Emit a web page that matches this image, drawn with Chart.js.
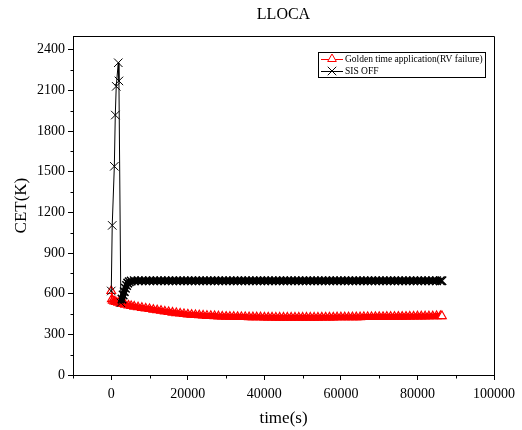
<!DOCTYPE html>
<html>
<head>
<meta charset="utf-8">
<script src="https://cdn.jsdelivr.net/npm/chart.js@4/dist/chart.umd.min.js"></script>
<style>
  html, body { margin: 0; padding: 0; background: #fff; }
  #wrap { width: 522px; height: 430px; }
</style>
</head>
<body>
<div id="wrap"><canvas id="cetChart" width="522" height="430"></canvas></div>
<script>
// ---- data ----
const goldenTime = [
  0, 150, 400, 800, 1200, 1800, 2400, 3000, 3600, 4500, 5200,
  6000, 7000, 8000, 9000, 10000, 11000, 12000, 13000, 14000, 15000,
  16000, 17000, 18000, 19000, 20000, 21000, 22000, 23000, 24000, 25000,
  26000, 27000, 28000, 29000, 30000, 31000, 32000, 33000, 34000, 35000,
  36000, 37000, 38000, 39000, 40000, 41000, 42000, 43000, 44000, 45000,
  46000, 47000, 48000, 49000, 50000, 51000, 52000, 53000, 54000, 55000,
  56000, 57000, 58000, 59000, 60000, 61000, 62000, 63000, 64000, 65000,
  66000, 67000, 68000, 69000, 70000, 71000, 72000, 73000, 74000, 75000,
  76000, 77000, 78000, 79000, 80000, 81000, 82000, 83000, 84000, 85000,
  86000, 86400
];
const goldenCET = [
  620, 560, 548, 543, 539, 534, 529, 524, 519, 513, 509,
  505, 500, 496, 491, 487, 482, 478, 474, 469, 465,
  461, 457, 454, 450, 447, 445, 443, 441, 439, 437,
  436, 435, 433, 432, 431, 430, 430, 429, 428, 428,
  427, 427, 426, 426, 425, 425, 425, 424, 424, 424,
  424, 424, 424, 424, 424, 424, 424, 424, 424, 425,
  425, 425, 425, 426, 426, 426, 426, 427, 427, 427,
  428, 428, 428, 429, 429, 429, 430, 430, 430, 431,
  431, 431, 432, 432, 433, 433, 433, 434, 434, 435,
  435, 435
];

const sisOffTime = [
  0, 250, 800, 1050, 1300, 1830, 2000, 2500, 2800, 3100, 3400, 3700, 4000, 4300, 4700, 5200,
  6000, 7000, 8000, 9000, 10000, 11000, 12000, 13000, 14000, 15000,
  16000, 17000, 18000, 19000, 20000, 21000, 22000, 23000, 24000, 25000,
  26000, 27000, 28000, 29000, 30000, 31000, 32000, 33000, 34000, 35000,
  36000, 37000, 38000, 39000, 40000, 41000, 42000, 43000, 44000, 45000,
  46000, 47000, 48000, 49000, 50000, 51000, 52000, 53000, 54000, 55000,
  56000, 57000, 58000, 59000, 60000, 61000, 62000, 63000, 64000, 65000,
  66000, 67000, 68000, 69000, 70000, 71000, 72000, 73000, 74000, 75000,
  76000, 77000, 78000, 79000, 80000, 81000, 82000, 83000, 84000, 85000,
  86000, 86400
];
const sisOffCET = [
  620, 1104, 1540, 1918, 2130, 2304, 2170, 533, 560, 590, 615, 640, 660, 678, 688, 693,
  695, 695, 695, 695, 695, 695, 695, 695, 695, 695,
  695, 695, 695, 695, 695, 695, 695, 695, 695, 695,
  695, 695, 695, 695, 695, 695, 695, 695, 695, 695,
  695, 695, 695, 695, 695, 695, 695, 695, 695, 695,
  695, 695, 695, 695, 695, 695, 695, 695, 695, 695,
  695, 695, 695, 695, 695, 695, 695, 695, 695, 695,
  695, 695, 695, 695, 695, 695, 695, 695, 695, 695,
  695, 695, 695, 695, 695, 695, 695, 695, 695, 695,
  695, 695
];

const xMajorTicks = [0, 20000, 40000, 60000, 80000, 100000];
const xMinorTicks = [-10000, 10000, 30000, 50000, 70000, 90000];
const yMajorTicks = [0, 300, 600, 900, 1200, 1500, 1800, 2100, 2400];
const yMinorTicks = [150, 450, 750, 1050, 1350, 1650, 1950, 2250];

const SERIF = "'Liberation Serif', 'DejaVu Serif', serif";
const SIS_SPIKE_END = 7;   // index where the SIS OFF spike is over and markers pack into a band
const GOLDEN_BAND_START = 1;

// points {x,y} for the linear x axis
const toPoints = (xs, ys) => xs.map((t, i) => ({ x: t, y: ys[i] }));

// frame (top/right), minor ticks and the boxed legend
const framePlugin = {
  id: 'frame',
  afterDraw(chart) {
    const { ctx, chartArea: a, scales: { x, y } } = chart;
    const L = Math.round(a.left) + 0.5, R = Math.round(a.right) + 0.5;
    const T = Math.round(a.top) + 0.5, B = Math.round(a.bottom) + 0.5;
    ctx.save();
    ctx.strokeStyle = '#000';
    ctx.lineWidth = 1;
    ctx.beginPath();
    ctx.moveTo(L, B); ctx.lineTo(L, T); ctx.lineTo(R, T); ctx.lineTo(R, B); ctx.lineTo(L, B);
    xMinorTicks.forEach(v => {
      const px = Math.round(x.getPixelForValue(v)) + 0.5;
      ctx.moveTo(px, B); ctx.lineTo(px, B + 3);
    });
    yMinorTicks.forEach(v => {
      const py = Math.round(y.getPixelForValue(v)) + 0.5;
      ctx.moveTo(L, py); ctx.lineTo(L - 3, py);
    });
    ctx.stroke();

    // legend box
    const bx = 318.5, by = 52.5, bw = 167, bh = 25;
    ctx.fillStyle = '#fff';
    ctx.fillRect(bx, by, bw, bh);
    ctx.strokeRect(bx, by, bw, bh);
    [0, 1].forEach((di, row) => {
      const ds = chart.data.datasets[di];
      const cy = 59 + row * 12;
      ctx.strokeStyle = ds.borderColor;
      ctx.lineWidth = 1;
      ctx.beginPath();
      ctx.moveTo(321, cy + 0.5); ctx.lineTo(343, cy + 0.5);
      ctx.stroke();
      ctx.fillStyle = '#fff';
      ctx.strokeStyle = ds.pointBorderColor;
      Chart.helpers.drawPoint(ctx, {
        pointStyle: ds.pointStyle, radius: ds.pointRadius, rotation: 0, borderWidth: 1
      }, 332, cy);
      ctx.fillStyle = '#000';
      ctx.font = '9.5px ' + SERIF;
      ctx.textBaseline = 'middle';
      ctx.textAlign = 'left';
      ctx.fillText(ds.label, 345, cy + 0.5);
    });
    ctx.restore();
  }
};

const lastGolden = goldenTime.length - 1;

new Chart(document.getElementById('cetChart'), {
  type: 'line',
  data: {
    datasets: [
      {
        label: 'Golden time application(RV failure)',
        data: toPoints(goldenTime, goldenCET),
        borderColor: '#ff0000',
        borderWidth: 1,
        borderJoinStyle: 'round',
        segment: { borderWidth: c => c.p0DataIndex >= GOLDEN_BAND_START ? 6 : 1 },
        pointStyle: 'triangle',
        pointRadius: 5,
        pointBorderWidth: 1.2,
        pointBorderColor: '#ff0000',
        pointBackgroundColor: c => c.dataIndex === lastGolden ? '#ffffff' : 'rgba(255,255,255,0)',
        tension: 0,
        order: 1
      },
      {
        label: 'SIS OFF',
        data: toPoints(sisOffTime, sisOffCET),
        borderColor: '#000000',
        borderWidth: 1,
        borderJoinStyle: 'round',
        segment: { borderWidth: c => c.p0DataIndex >= SIS_SPIKE_END ? 6 : 1 },
        pointStyle: 'crossRot',
        pointRadius: 6,
        pointBorderWidth: c => c.dataIndex <= SIS_SPIKE_END ? 1 : 1.5,
        pointBorderColor: '#000000',
        pointBackgroundColor: '#000000',
        tension: 0,
        order: 0
      }
    ]
  },
  options: {
    responsive: false,
    animation: false,
    layout: { padding: { left: 0, right: 28, top: 0, bottom: 0 } },
    plugins: {
      legend: { display: false },
      tooltip: { enabled: false },
      title: {
        display: true,
        text: 'LLOCA',
        fullSize: false,
        color: '#000',
        font: { family: SERIF, size: 16, weight: 'normal' },
        padding: { top: 5, bottom: 12 }
      }
    },
    scales: {
      x: {
        type: 'linear',
        min: -10000,
        max: 100000,
        afterBuildTicks: s => { s.ticks = xMajorTicks.map(v => ({ value: v })); },
        afterFit: s => { s.height = 55; },
        grid: { drawOnChartArea: false, drawTicks: true, tickLength: 5, color: '#000', tickColor: '#000' },
        border: { display: true, color: '#000', width: 1 },
        ticks: {
          color: '#000', autoSkip: false, maxRotation: 0, padding: 6,
          font: { family: SERIF, size: 14 },
          callback: v => String(v)
        },
        title: {
          display: true, text: 'time(s)', color: '#000',
          font: { family: SERIF, size: 17 },
          padding: { top: 0, bottom: 1 }
        }
      },
      y: {
        type: 'linear',
        min: 0,
        max: 2500,
        afterBuildTicks: s => { s.ticks = yMajorTicks.map(v => ({ value: v })); },
        afterFit: s => { s.width = 73; },
        grid: { drawOnChartArea: false, drawTicks: true, tickLength: 5, color: '#000', tickColor: '#000' },
        border: { display: true, color: '#000', width: 1 },
        ticks: {
          color: '#000', autoSkip: false, padding: 3,
          font: { family: SERIF, size: 14 },
          callback: v => String(v)
        },
        title: {
          display: true, text: 'CET(K)', color: '#000',
          font: { family: SERIF, size: 17 },
          padding: { top: 11, bottom: 0 }
        }
      }
    }
  },
  plugins: [framePlugin]
});
</script>
</body>
</html>
